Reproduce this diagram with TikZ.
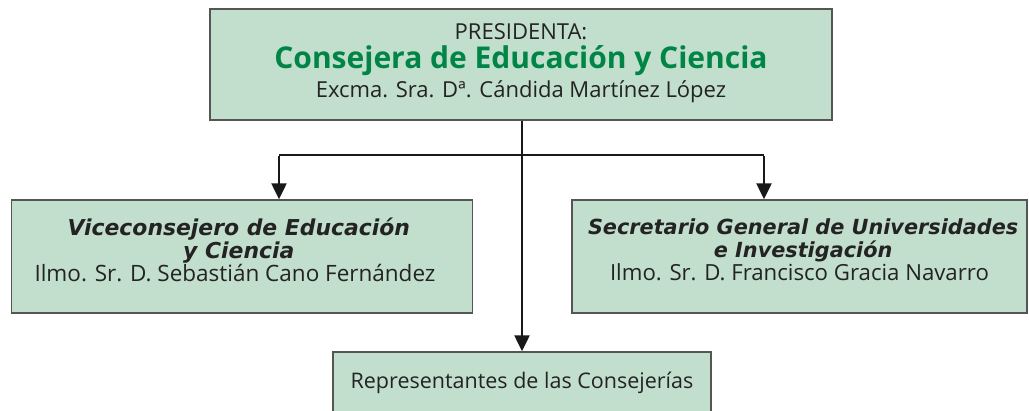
\documentclass[tikz,border=0pt]{standalone}
\usepackage{fontspec}
\setmainfont{Open Sans}
\newfontfamily\headfam{DejaVu Sans}
\usetikzlibrary{arrows.meta}
\definecolor{boxfill}{RGB}{194,222,204}
\definecolor{boxline}{RGB}{85,85,85}
\definecolor{titlegreen}{RGB}{0,133,70}
\definecolor{textgray}{RGB}{35,35,35}
\newcommand{\headfont}[1]{\headfam\fontsize{#1}{23}\selectfont\bfseries\itshape}
\newcommand{\namefont}{\normalfont\fontsize{22.2}{23}\selectfont}
\tikzset{
  orgbox/.style={draw=boxline, line width=1.4pt, fill=boxfill, inner sep=0pt},
  boxtext/.style={align=center, inner sep=0pt, text=textgray, font=\fontsize{22}{23}\selectfont},
  conn/.style={line width=2.3pt, black!90},
  arr/.style={conn, -{Triangle[width=15pt,length=16pt]}},
}
\begin{document}
\begin{tikzpicture}[x=1pt,y=-1pt]
\useasboundingbox (0,0) rectangle (1029,410);
\begin{scope}
\clip (0,0) rectangle (1029,410);
\node[orgbox, minimum width=622pt, minimum height=111pt] (tbox) at (521,64.5) {};
\node[boxtext, font=\fontsize{22}{29}\selectfont] (ttext) at ([yshift=1pt]tbox.center)
  {PRESIDENTA:\\
   \fontsize{30}{29}\selectfont\bfseries\color{titlegreen}Consejera de Educación y Ciencia\\
   \fontsize{22}{29}\selectfont\normalfont\color{textgray}Excma. Sra. Dª. Cándida Martínez López};
\node[orgbox, minimum width=461pt, minimum height=113pt] (lbox) at (242,256.5) {};
\node[boxtext] (ltext) at ([xshift=-7pt,yshift=7pt]lbox.center)
  {\headfont{21.9} Viceconsejero de Educación\\
   \headfont{21.9} y Ciencia\\
   \namefont\fontsize{22.5}{23}\selectfont Ilmo. Sr. D. Sebastián Cano Fernández};
\node[orgbox, minimum width=455pt, minimum height=113pt] (rbox) at (799.5,256.5) {};
\node[boxtext] (rtext) at ([yshift=7pt]rbox.center)
  {\headfont{20.8} Secretario General de Universidades\\
   \headfont{20.8} e Investigación\\
   \namefont Ilmo. Sr. D. Francisco Gracia Navarro};
\node[orgbox, minimum width=378pt, minimum height=62pt] (bbox) at (522,383) {};
\node[boxtext, font=\fontsize{21.5}{23}\selectfont] (btext) at (bbox.center)
  {Representantes de las Consejerías};
\end{scope}
\coordinate (jc) at (522,155);
\coordinate (jl) at (279,155);
\coordinate (jr) at (764,155);
\draw[arr] (tbox.south -| jc) -- (bbox.north -| jc);
\draw[conn] (jl) -- (jr);
\draw[arr] ([yshift=-1.15pt]jl) -- (lbox.north -| jl);
\draw[arr] ([yshift=-1.15pt]jr) -- (rbox.north -| jr);
\end{tikzpicture}
\end{document}
